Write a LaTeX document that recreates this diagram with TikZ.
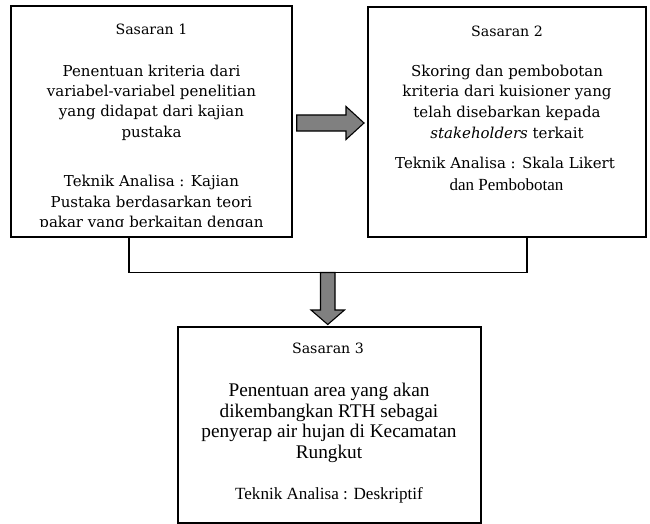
\documentclass[tikz,border=0pt]{standalone}
\usepackage{fontspec}
\setmainfont{Liberation Serif}
\newfontfamily\geo{DejaVu Serif}
\definecolor{arrowgray}{RGB}{128,128,128}
\tikzset{
  box/.style={draw=black, line width=1.5pt, inner sep=0pt, fill=none},
  title/.style={font=\geo\fontsize{14.2}{17}\selectfont, inner sep=0pt, align=center},
  geotext/.style={font=\geo\fontsize{15}{20.4}\selectfont, inner sep=0pt, align=center},
  timestext/.style={font=\fontsize{19.3}{20.7}\selectfont, inner sep=0pt, align=center},
  link/.style={draw=black, line width=1.2pt},
  blockarrow/.style={draw=black, line width=1.1pt, fill=arrowgray, line join=miter}
}
\begin{document}
\begin{tikzpicture}[x=1pt, y=-1pt]
\useasboundingbox (0,0) rectangle (650,524);
% boxes
\node[box, minimum width=281pt, minimum height=231pt] (b1) at (151.5,121.5) {};
\node[box, minimum width=278pt, minimum height=230pt] (b2) at (507,122) {};
\node[box, minimum width=303pt, minimum height=196pt] (b3) at (329.5,425) {};
% box 1 text
\node[title] (t1) at (151.5,29.5) {Sasaran 1};
\node[geotext] (m1) at (151.5,102.5) {Penentuan kriteria dari\\variabel-variabel penelitian\\yang didapat dari kajian\\pustaka};
\begin{scope}
\clip (11,6) rectangle (292,226);
\node[geotext] (k1) at (151.5,203) {Teknik Analisa : Kajian\\Pustaka berdasarkan teori\\pakar yang berkaitan dengan};
\end{scope}
% box 2 text
\node[title] (t2) at (507,31) {Sasaran 2};
\node[geotext, font=\geo\fontsize{15}{20.7}\selectfont] (m2) at (507,101.5) {Skoring dan pembobotan\\kriteria dari kuisioner yang\\telah disebarkan kepada\\\textit{stakeholders} terkait};
\node[geotext] (k2) at (505,163) {Teknik Analisa : Skala Likert};
\node[inner sep=0pt, font=\fontsize{17}{20}\selectfont] (d2) at (506.5,185) {dan Pembobotan};
% box 3 text
\node[title] (t3) at (328,348) {Sasaran 3};
\node[timestext] (m3) at (329,422.75) {Penentuan area yang akan\\dikembangkan RTH sebagai\\penyerap air hujan di Kecamatan\\Rungkut};
\node[inner sep=0pt, font=\fontsize{17.1}{20}\selectfont] (k3) at (329,495) {Teknik Analisa : Deskriptif};
% connector from boxes 1 and 2
\coordinate (j1) at (129,272.5);
\coordinate (j2) at (527,272.5);
\draw[link] (b1.south -| j1) -- (j1) -- (j2) -- (b2.south -| j2);
% right block arrow
\draw[blockarrow] (296.7,115) -- (346,115) -- (346,106.5) -- (364,123) -- (346,139.5) -- (346,131) -- (296.7,131) -- cycle;
% down block arrow
\draw[blockarrow] (320.5,272.5) -- (335,272.5) -- (335,310) -- (344.5,310) -- (327.75,324.5) -- (311,310) -- (320.5,310) -- cycle;
\end{tikzpicture}
\end{document}
